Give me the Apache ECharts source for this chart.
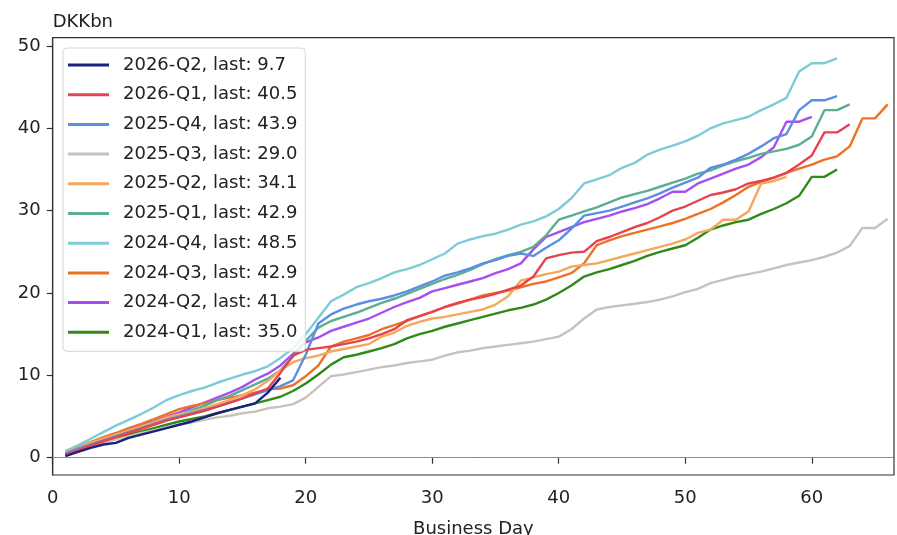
<!DOCTYPE html>
<html>
<head>
<meta charset="utf-8">
<script src="https://cdn.jsdelivr.net/npm/echarts@6/dist/echarts.min.js"></script>
<style>
html,body{margin:0;padding:0;background:#fff;}
#chart{width:897px;height:535px;}
</style>
</head>
<body>
<div id="chart"></div>
<script>
// Business-day cumulative values (DKKbn), day 1..N
const q2026_2 = [0.2,0.7,1.2,1.6,1.8,2.4,2.8,3.2,3.6,4.0,4.4,4.9,5.4,5.8,6.2,6.6,7.9,9.7];
const q2026_1 = [0.4,0.9,1.5,2.0,2.5,3.0,3.5,4.0,4.5,4.9,5.3,5.7,6.2,6.7,7.2,7.8,8.4,10.3,12.4,13.1,13.3,13.5,13.8,14.1,14.5,15.0,15.6,16.7,17.2,17.7,18.3,18.8,19.2,19.5,19.9,20.4,20.9,22.0,24.2,24.6,24.9,25.0,26.3,26.8,27.4,28.0,28.5,29.2,30.0,30.5,31.2,31.9,32.2,32.6,33.3,33.6,34.0,34.6,35.6,36.7,39.5,39.5,40.5];
const q2025_4 = [0.5,1.1,1.6,2.1,2.6,3.1,3.6,4.1,4.6,5.0,5.4,5.8,6.2,6.7,7.2,7.7,8.2,8.7,9.4,12.5,16.3,17.4,18.1,18.6,19.0,19.3,19.7,20.2,20.8,21.4,22.1,22.5,23.0,23.6,24.0,24.5,24.8,24.5,25.5,26.4,27.8,29.4,29.7,30.0,30.5,31.0,31.5,32.1,32.8,33.4,34.0,35.2,35.6,36.2,36.9,37.8,38.8,39.3,42.2,43.4,43.4,43.9];
const q2025_3 = [0.3,0.8,1.3,1.8,2.2,2.6,3.0,3.3,3.7,4.0,4.3,4.6,4.9,5.1,5.4,5.6,6.0,6.2,6.5,7.3,8.6,9.9,10.1,10.4,10.7,11.0,11.2,11.5,11.7,11.9,12.4,12.8,13.0,13.3,13.5,13.7,13.9,14.1,14.4,14.7,15.6,16.9,18.0,18.3,18.5,18.7,18.9,19.2,19.6,20.1,20.5,21.2,21.6,22.0,22.3,22.6,23.0,23.4,23.7,24.0,24.4,24.9,25.7,27.9,27.9,29.0];
const q2025_2 = [0.6,1.2,1.8,2.3,2.8,3.3,3.8,4.3,4.9,5.3,5.6,6.0,6.5,7.0,7.6,8.3,9.3,10.6,11.6,12.1,12.4,12.9,13.2,13.5,13.8,14.7,15.2,16.0,16.5,16.9,17.1,17.4,17.7,18.0,18.6,19.6,21.5,21.9,22.3,22.6,23.2,23.4,23.6,24.0,24.4,24.8,25.2,25.6,26.0,26.5,27.3,27.7,28.9,28.9,29.9,33.3,33.6,34.1];
const q2025_1 = [0.6,1.2,1.8,2.3,2.8,3.3,3.8,4.3,4.8,5.3,5.8,6.3,7.0,7.5,8.2,8.9,9.6,10.6,12.3,14.2,15.8,16.6,17.1,17.6,18.2,18.8,19.3,19.9,20.5,21.1,21.7,22.2,22.8,23.5,24.1,24.6,25.0,25.6,27.0,28.9,29.4,29.9,30.4,31.0,31.6,32.0,32.4,32.9,33.4,33.9,34.5,34.9,35.5,36.0,36.4,36.9,37.2,37.5,38.0,39.0,42.2,42.2,42.9];
const q2024_4 = [0.8,1.5,2.3,3.1,3.9,4.6,5.3,6.1,7.0,7.6,8.1,8.5,9.1,9.6,10.1,10.5,11.1,12.1,13.3,15.0,17.0,19.0,19.8,20.7,21.2,21.8,22.5,22.9,23.4,24.1,24.8,26.0,26.5,26.9,27.2,27.7,28.3,28.7,29.3,30.2,31.5,33.3,33.8,34.3,35.2,35.8,36.8,37.4,37.9,38.4,39.1,40.0,40.6,41.0,41.4,42.2,42.9,43.7,46.9,47.9,47.9,48.5];
const q2024_3 = [0.5,1.2,1.9,2.5,3.0,3.6,4.1,4.7,5.3,5.9,6.3,6.6,7.0,7.3,7.6,7.9,8.3,8.4,8.8,9.9,11.2,13.5,14.1,14.5,14.9,15.6,16.1,16.6,17.2,17.7,18.3,18.7,19.2,19.7,20.0,20.3,20.7,21.1,21.4,21.9,22.4,23.6,25.8,26.4,26.9,27.3,27.7,28.1,28.5,29.0,29.6,30.2,31.0,31.9,32.9,33.5,34.0,34.6,35.1,35.6,36.2,36.6,37.8,41.2,41.2,42.9];
const q2024_2 = [0.5,1.1,1.7,2.3,2.8,3.3,3.9,4.4,5.0,5.5,6.1,6.7,7.3,7.9,8.6,9.5,10.2,11.2,12.6,14.0,14.6,15.4,15.9,16.4,16.9,17.6,18.3,18.9,19.4,20.2,20.6,21.0,21.4,21.8,22.4,22.9,23.6,25.3,26.8,27.4,28.0,28.6,29.0,29.4,29.9,30.3,30.8,31.5,32.3,32.3,33.3,33.9,34.5,35.1,35.6,36.5,37.7,40.8,40.8,41.4];
const q2024_1 = [0.4,0.9,1.4,1.9,2.3,2.8,3.2,3.6,4.0,4.4,4.7,5.0,5.4,5.8,6.2,6.6,7.0,7.4,8.1,9.0,10.1,11.3,12.2,12.5,12.9,13.3,13.8,14.5,15.0,15.4,15.9,16.3,16.7,17.1,17.5,17.9,18.2,18.6,19.2,20.0,20.9,22.0,22.5,22.9,23.4,23.9,24.5,25.0,25.4,25.8,26.7,27.7,28.2,28.6,28.9,29.6,30.2,30.9,31.8,34.1,34.1,35.0];

const seriesNames = ['2026-Q2','2026-Q1','2025-Q4','2025-Q3','2025-Q2','2025-Q1','2024-Q4','2024-Q3','2024-Q2','2024-Q1'];
const seriesValues = [q2026_2,q2026_1,q2025_4,q2025_3,q2025_2,q2025_1,q2024_4,q2024_3,q2024_2,q2024_1];
const seriesColors = ['#1b1f7e','#e4434f','#5a8fe2','#c9c2ba','#f4a85c','#5bae92','#7ecbd8','#ef7124','#a64ef1','#2f8a18'];
const xTicks = [0,10,20,30,40,50,60];
const yTicks = [0,10,20,30,40,50];

const FONT = '"DejaVu Sans", sans-serif';
const labels = seriesNames.map((n,i)=> n + ', last: ' + seriesValues[i][seriesValues[i].length-1].toFixed(1));

const series = [];
for (let i = seriesNames.length - 1; i >= 0; i--) {
  series.push({
    name: labels[i],
    type: 'line',
    symbol: 'none',
    showSymbol: false,
    data: seriesValues[i].map((v, k) => [k + 1, v]),
    lineStyle: {color: seriesColors[i], width: 2.4},
    itemStyle: {color: seriesColors[i]},
    z: 2,
    animation: false
  });
}
series.push({
  type: 'line', data: [], symbol: 'none',
  markLine: {silent: true, symbol: 'none', label: {show: false},
    lineStyle: {color: '#8a8a8a', width: 1, type: 'solid'}, data: [{yAxis: 0}]},
  animation: false
});

const chart = echarts.init(document.getElementById('chart'), null, {renderer: 'canvas'});
chart.setOption({
  animation: false,
  backgroundColor: '#fff',
  grid: {left: 52.7, right: 3, top: 37.7, bottom: 60, containLabel: false, outerBoundsMode: 'none',
         show: true, borderColor: '#333', borderWidth: 1.2, backgroundColor: 'transparent'},
  legend: {
    data: labels,
    orient: 'vertical',
    left: 63, top: 48,
    icon: 'rect',
    itemWidth: 41, itemHeight: 3, itemGap: 11.7,
    padding: [8, 8, 10, 5],
    backgroundColor: 'rgba(255,255,255,0.85)',
    borderColor: '#d6d6d6', borderWidth: 1, borderRadius: 4,
    textStyle: {fontFamily: FONT, fontSize: 18, color: '#222', padding: [0,0,0,9]},
    selectedMode: false
  },
  xAxis: {
    type: 'value', min: 0, max: 66.5, interval: 10,
    name: 'Business Day', nameLocation: 'middle', nameGap: 45,
    nameTextStyle: {fontFamily: FONT, fontSize: 18, color: '#222'},
    axisLine: {show: true, lineStyle: {color: '#333', width: 1.2}},
    axisTick: {show: true, length: 6, inside: false, lineStyle: {color: '#333', width: 1.2}, customValues: xTicks},
    axisLabel: {fontFamily: FONT, fontSize: 18, color: '#222', margin: 14, customValues: xTicks},
    splitLine: {show: false}
  },
  yAxis: {
    type: 'value', min: -2.1, max: 51.0,
    name: 'DKKbn', nameLocation: 'end', nameGap: 6,
    nameTextStyle: {fontFamily: FONT, fontSize: 18, color: '#222', align: 'left', verticalAlign: 'bottom'},
    axisLine: {show: true, lineStyle: {color: '#333', width: 1.2}},
    axisTick: {show: true, length: 6, inside: false, lineStyle: {color: '#333', width: 1.2}, customValues: yTicks},
    axisLabel: {fontFamily: FONT, fontSize: 18, color: '#222', margin: 12, customValues: yTicks},
    splitLine: {show: false}
  },
  series: series
});
</script>
</body>
</html>
